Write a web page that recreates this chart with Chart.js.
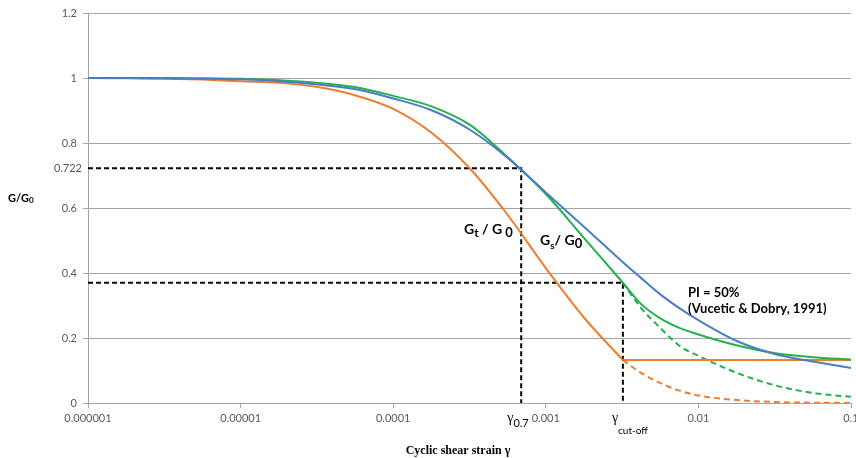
<!DOCTYPE html>
<html>
<head>
<meta charset="utf-8">
<script src="https://cdn.jsdelivr.net/npm/chart.js@4.4.1/dist/chart.umd.min.js"></script>
<style>
    html, body { margin: 0; padding: 0; background: #fff; }
    #chart { display: block; }
</style>
</head>
<body>
<canvas id="chart" width="856" height="458"></canvas>
<script>
// strain grid, roughly quarter decades from 1e-6 to 0.1
const strain = [0.000001, 0.0000018, 0.0000032, 0.0000056, 0.00001, 0.000018, 0.000032, 0.000056,
    0.0001, 0.00018, 0.00032, 0.00056, 0.001, 0.0018, 0.0032, 0.0042, 0.0056, 0.0075, 0.01,
    0.018, 0.032, 0.056, 0.1];
const vuceticDobry = [1.0, 1.0, 0.999, 0.998, 0.996, 0.99, 0.98, 0.966, 0.937, 0.9, 0.84, 0.755,
    0.648, 0.54, 0.433, 0.385, 0.335, 0.292, 0.255, 0.19, 0.15, 0.128, 0.108];
const gsG0 = [1.0, 1.0, 1.0, 0.999, 0.998, 0.993, 0.985, 0.972, 0.945, 0.912, 0.855, 0.757,
    0.643, 0.505, 0.37, 0.305, 0.261, 0.231, 0.211, 0.177, 0.153, 0.141, 0.134];
// Gt/G0 stops at the cut-off strain
const gtG0 = [1.0, 0.999, 0.998, 0.995, 0.99, 0.985, 0.972, 0.947, 0.905, 0.83, 0.72, 0.58,
    0.415, 0.26, 0.132];

// branches past the cut-off
const tailStrain = [0.0032, 0.0042, 0.0056, 0.0075, 0.01, 0.018, 0.032, 0.056, 0.1];
const gsTail = [0.37, 0.293, 0.232, 0.176, 0.145, 0.092, 0.054, 0.031, 0.019];
const gtTail = [0.132, 0.093, 0.062, 0.038, 0.023, 0.009, 0.003, 0.001, 0.0];
const plateauStrain = [0.0032, 0.1];
const gtPlateau = [0.132, 0.132];

const gamma07 = 0.00069;
const g07 = 0.722;
const gammaCut = 0.0032;
const gCut = 0.37;

const decadeTicks = [0.000001, 0.00001, 0.0001, 0.001, 0.01, 0.1];

const BLUE = '#4A7DC4';
const ORANGE = '#ED7D31';
const GREEN = '#23B14D';
const GRID = '#A5A5A5';
const LABEL = '#595959';

function points(xs, ys) {
    return ys.map((y, i) => ({ x: xs[i], y: y }));
}

function curve(data, color, dashed = false) {
    return {
        data: data,
        borderColor: color,
        borderWidth: 2,
        borderDash: dashed ? [6, 4] : [],
        pointRadius: 0,
        cubicInterpolationMode: 'monotone',
        fill: false,
    };
}

function refLine(data) {
    return {
        data: data,
        borderColor: '#000',
        borderWidth: 2,
        borderDash: [5, 3],
        pointRadius: 0,
        tension: 0,
        fill: false,
        order: 10,
    };
}

function drawRuns(ctx, runs, x, base) {
    ctx.textAlign = 'left';
    for (let r of runs) {
        ctx.font = r.font;
        ctx.fillText(r.text, x, base + (r.dy || 0));
        x += ctx.measureText(r.text).width;
    }
}

const annotations = {
    id: 'annotations',
    afterDraw(chart) {
        const ctx = chart.ctx;
        const y = chart.scales.y;
        const x = chart.scales.x;
        ctx.save();
        ctx.textBaseline = 'alphabetic';

        ctx.fillStyle = LABEL;
        ctx.font = '11px Lato';
        ctx.textAlign = 'right';
        ctx.fillText('0.722', 82, y.getPixelForValue(g07) + 4);

        ctx.fillStyle = '#000';
        drawRuns(ctx, [
            { text: 'G/G', font: 'bold 11px Lato' },
            { text: '0', font: 'bold 8px Lato', dy: 1 },
        ], 8, 202);

        drawRuns(ctx, [
            { text: 'G', font: 'bold 14px Lato' },
            { text: 't', font: 'bold 12px Lato', dy: 3 },
            { text: ' / G', font: 'bold 14px Lato' },
            { text: ' 0', font: 'bold 13px Lato', dy: 3 },
        ], 464, 234);

        drawRuns(ctx, [
            { text: 'G', font: 'bold 14px Lato' },
            { text: 's', font: 'bold 10px Lato', dy: 4 },
            { text: '/ G', font: 'bold 14px Lato' },
            { text: '0', font: 'bold 13px Lato', dy: 3 },
        ], 540, 245);

        ctx.font = 'bold 13px Lato';
        ctx.textAlign = 'left';
        ctx.fillText('PI = 50%', 688, 297);
        ctx.fillText('(Vucetic & Dobry, 1991)', 688, 313);

        const px07 = x.getPixelForValue(gamma07);
        drawRuns(ctx, [
            { text: 'γ', font: '14px "Liberation Serif"' },
            { text: '0.7', font: '11px Lato', dy: 5 },
        ], px07 - 14, 422);

        const pxCut = x.getPixelForValue(gammaCut);
        drawRuns(ctx, [
            { text: 'γ', font: '14px "Liberation Serif"' },
            { text: 'cut-off', font: '10px Lato', dy: 12 },
        ], pxCut - 11, 422);

        ctx.font = 'bold 12px "Liberation Serif"';
        ctx.textAlign = 'center';
        ctx.fillText('Cyclic shear strain γ', 458, 454);
        ctx.restore();
    }
};

new Chart(document.getElementById('chart'), {
    type: 'line',
    data: {
        datasets: [
            curve(points(strain, vuceticDobry), BLUE),
            curve(points(strain, gsG0), GREEN),
            curve(points(strain, gtG0), ORANGE),
            curve(points(plateauStrain, gtPlateau), ORANGE),
            curve(points(tailStrain, gsTail), GREEN, true),
            curve(points(tailStrain, gtTail), ORANGE, true),
            refLine([{ x: decadeTicks[0], y: g07 }, { x: gamma07, y: g07 }, { x: gamma07, y: 0 }]),
            refLine([{ x: decadeTicks[0], y: gCut }, { x: gammaCut, y: gCut }, { x: gammaCut, y: 0 }]),
        ],
    },
    options: {
        responsive: false,
        animation: false,
        layout: { padding: { top: 13, right: 5, left: 0, bottom: 0 } },
        plugins: {
            legend: { display: false },
            tooltip: { enabled: false },
        },
        scales: {
            x: {
                type: 'logarithmic',
                min: 0.000001,
                max: 0.1,
                afterBuildTicks: (scale) => {
                    scale.ticks = decadeTicks.map((v) => ({ value: v }));
                },
                afterFit: (scale) => {
                    scale.height = 55;
                    scale.paddingLeft = 0;
                    scale.paddingRight = 0;
                },
                grid: {
                    drawOnChartArea: false,
                    drawTicks: true,
                    tickLength: 5,
                    color: GRID,
                },
                border: { color: GRID, width: 1 },
                ticks: {
                    autoSkip: false,
                    maxRotation: 0,
                    padding: 4,
                    color: LABEL,
                    font: { family: 'Lato', size: 11 },
                    callback: (v) => String(v),
                },
            },
            y: {
                min: 0,
                max: 1.2,
                afterFit: (scale) => {
                    scale.width = 88;
                    scale.paddingTop = 0;
                    scale.paddingBottom = 0;
                },
                grid: {
                    color: GRID,
                    tickLength: 5,
                },
                border: { color: GRID, width: 1 },
                ticks: {
                    stepSize: 0.2,
                    padding: 6,
                    color: LABEL,
                    font: { family: 'Lato', size: 11 },
                    callback: (v) => String(Number(v.toFixed(3))),
                },
            },
        },
    },
    plugins: [annotations],
});
</script>
</body>
</html>
